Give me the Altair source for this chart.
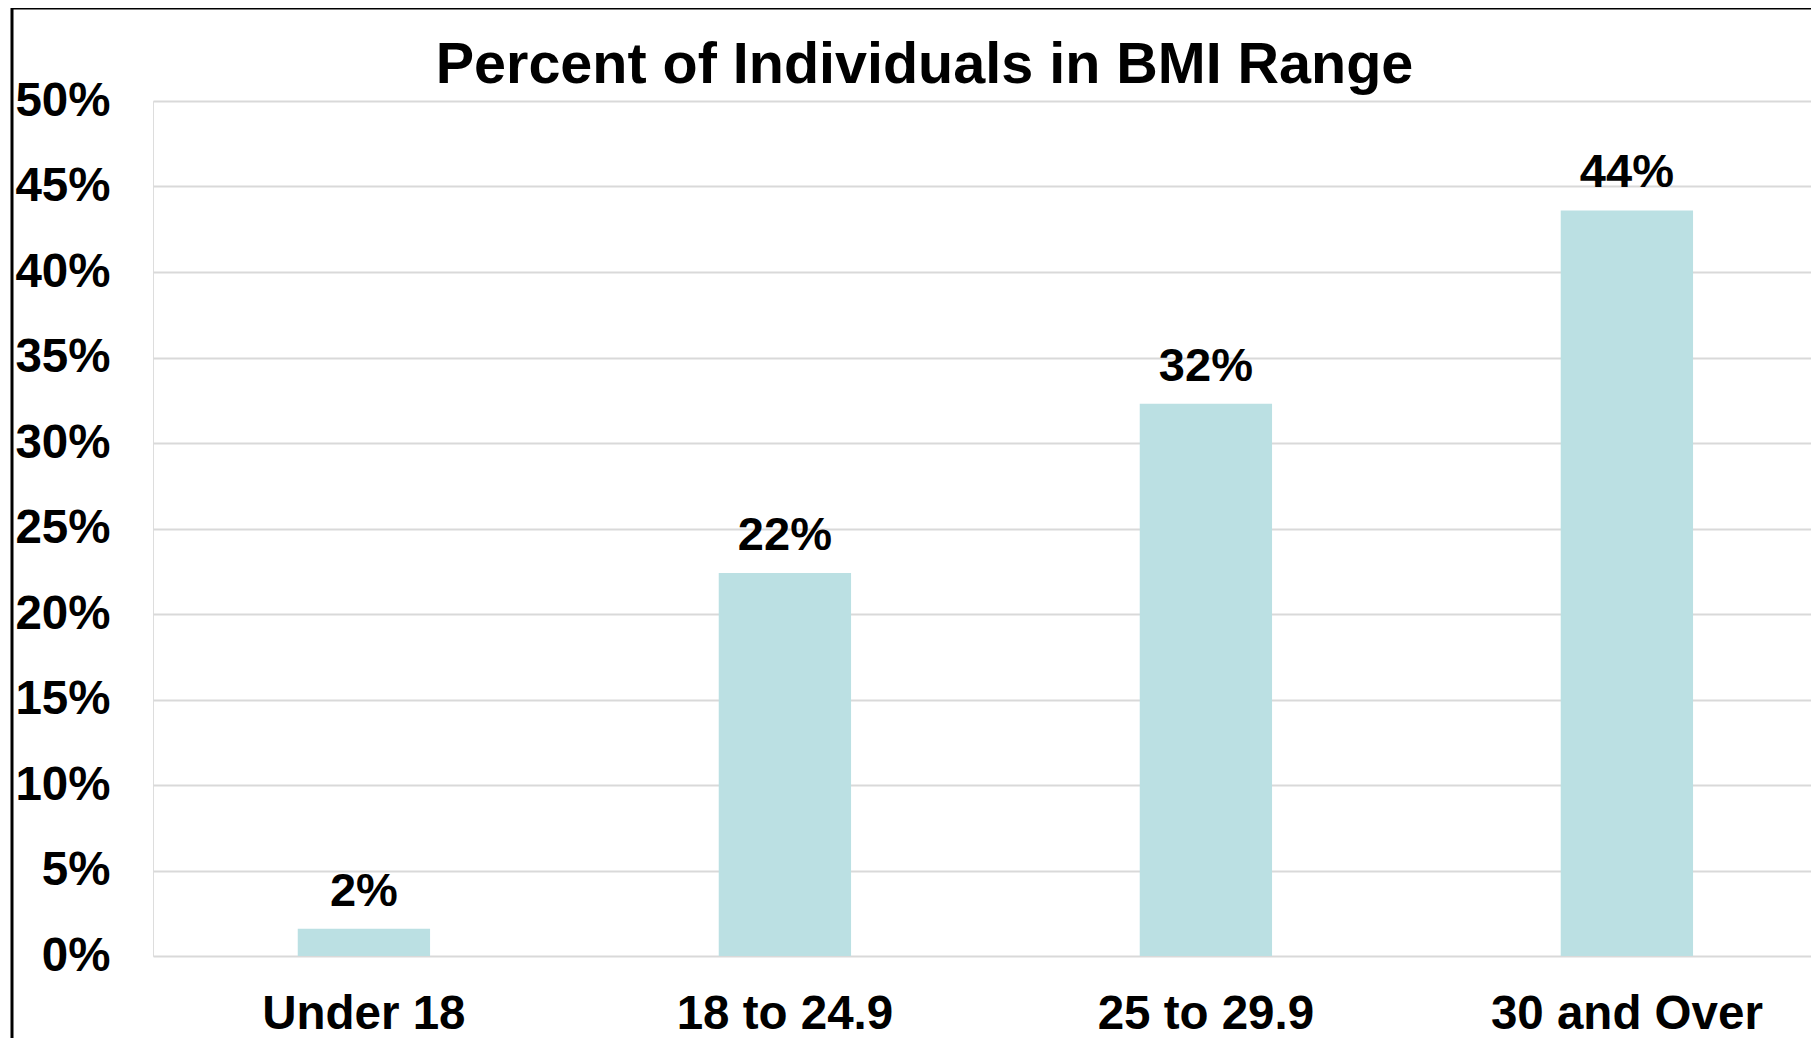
import altair as alt
import pandas as pd

categories = ["Under 18", "18 to 24.9", "25 to 29.9", "30 and Over"]
values = [0.016, 0.224, 0.323, 0.436]
y_ticks = [0, 0.05, 0.10, 0.15, 0.20, 0.25, 0.30, 0.35, 0.40, 0.45, 0.50]
title_text = "Percent of Individuals in BMI Range"

df = pd.DataFrame({"cat": categories, "val": values})

W = 1658
H = 855
PAD = {"left": 145, "top": 93, "right": 0, "bottom": 84}
FONT = "Liberation Sans"

x_enc = alt.X(
    "cat:N",
    sort=categories,
    scale=alt.Scale(paddingInner=0.6857, paddingOuter=0.312, align=0.551),
    axis=alt.Axis(
        title=None, labelAngle=0, domain=False, ticks=False, tickSize=0,
        labelPadding=34, labelFontSize=47.5, labelFont=FONT, labelLimit=0,
        labelFontWeight="bold", labelColor="#000000", grid=False,
    ),
)
y_enc = alt.Y(
    "val:Q",
    scale=alt.Scale(domain=[0, 0.5], nice=False),
    axis=alt.Axis(
        title=None, values=y_ticks, format=".0%", domain=False, ticks=False,
        tickSize=0, labelPadding=43, labelFontSize=47.5, labelFont=FONT,
        labelFontWeight="bold", labelColor="#000000",
        grid=True, gridColor="#d9d9d9", gridWidth=2,
    ),
)

base = alt.Chart(df)
bars = base.mark_bar(color="#bbe0e3").encode(x=x_enc, y=y_enc)
labels = base.mark_text(
    baseline="alphabetic", dy=-23, fontSize=47, fontWeight="bold",
    font=FONT, color="#000000",
).encode(x=alt.X("cat:N", sort=categories), y="val:Q", text=alt.Text("val:Q", format=".0%"))

one_df = pd.DataFrame({"t": [title_text]})
title_mark = alt.Chart(one_df).mark_text(
    baseline="alphabetic", align="center", fontSize=57.5, fontWeight="bold",
    font=FONT, color="#000000",
).encode(x=alt.value(771.5), y=alt.value(-18.5), text="t:N")

left_line = alt.Chart(one_df).mark_rule(color="#000000", strokeWidth=3).encode(
    x=alt.value(-141), y=alt.value(-93), y2=alt.value(H + 84)
)
top_line = alt.Chart(one_df).mark_rule(color="#000000", strokeWidth=3).encode(
    x=alt.value(-142), x2=alt.value(W + 10), y=alt.value(-93)
)

chart = alt.layer(bars, labels, title_mark, left_line, top_line).properties(
    width=W, height=H,
    autosize=alt.AutoSizeParams(type="none"),
    padding=PAD,
).configure_view(stroke=None).configure(background="#ffffff")

chart.save("out.html", embed_options={"renderer": "svg", "actions": False})
